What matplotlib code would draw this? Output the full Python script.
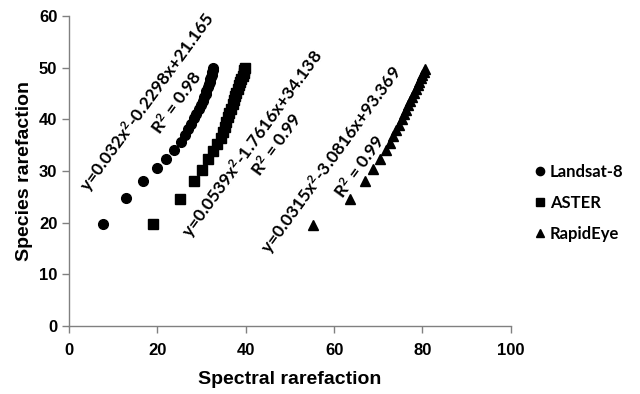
import matplotlib
matplotlib.use('Agg')
import matplotlib.pyplot as plt

# Landsat-8 (circles)
landsat_x = [7.6, 12.9, 16.8, 19.8, 21.9, 23.8, 25.3, 26.2, 26.9, 27.6, 28.2, 28.8, 29.4,
             29.9, 30.3, 30.6, 30.9, 31.1, 31.4, 31.6, 31.8, 32.0, 32.2, 32.3, 32.4, 32.5, 32.6]
landsat_y = [19.7, 24.8, 28.0, 30.5, 32.4, 34.1, 35.6, 36.9, 38.1, 39.2, 40.2, 41.1, 42.0,
             42.8, 43.6, 44.3, 45.0, 45.6, 46.2, 46.8, 47.3, 47.8, 48.3, 48.7, 49.1, 49.5, 49.9]

# ASTER (squares)
aster_x = [18.9, 25.0, 28.3, 30.2, 31.5, 32.6, 33.5, 34.3, 34.8, 35.2, 35.6, 36.0, 36.3,
           36.7, 37.0, 37.3, 37.6, 37.9, 38.2, 38.5, 38.8, 39.0, 39.3, 39.5, 39.7, 39.8]
aster_y = [19.7, 24.6, 28.0, 30.3, 32.3, 33.9, 35.2, 36.4, 37.5, 38.5, 39.5, 40.4, 41.3,
           42.1, 42.9, 43.7, 44.5, 45.2, 45.9, 46.6, 47.3, 47.9, 48.5, 49.0, 49.5, 50.0]

# RapidEye (triangles)
rapideye_x = [55.3, 63.5, 66.9, 68.9, 70.5, 71.8, 72.7, 73.4, 74.1, 74.7, 75.3, 75.8,
              76.3, 76.8, 77.3, 77.7, 78.1, 78.5, 78.9, 79.3, 79.7, 80.0, 80.3, 80.6]
rapideye_y = [19.6, 24.5, 28.0, 30.4, 32.4, 34.0, 35.4, 36.7, 37.9, 39.0, 40.0, 41.0,
              41.9, 42.8, 43.6, 44.4, 45.2, 45.9, 46.6, 47.3, 48.0, 48.6, 49.2, 49.8]

# trend-line labels: (x, y, text)
fit_labels = [
    (17.8, 43.4, 'y=0.032x$^{2}$-0.2298x+21.165'),
    (24.4, 43.2, 'R$^{2}$ = 0.98'),
    (41.5, 35.3, 'y=0.0539x$^{2}$-1.7616x+34.138'),
    (47.0, 35.2, 'R$^{2}$ = 0.99'),
    (59.5, 32.1, 'y=0.0315x$^{2}$-3.0816x+93.369'),
    (65.8, 30.8, 'R$^{2}$ = 0.99'),
]

plt.rcParams['mathtext.fontset'] = 'custom'
plt.rcParams['mathtext.rm'] = 'Lato:bold'
plt.rcParams['mathtext.default'] = 'rm'

fig = plt.figure(figsize=(6.4, 3.94), dpi=100)
ax = fig.add_axes([0.108, 0.1726, 0.69, 0.7864])

ax.plot(landsat_x, landsat_y, 'o', color='black', ms=7, label='Landsat-8')
ax.plot(aster_x, aster_y, 's', color='black', ms=6.5, label='ASTER')
ax.plot(rapideye_x, rapideye_y, '^', color='black', ms=7.5, label='RapidEye')

for x, y, txt in fit_labels:
    ax.text(x, y, txt, rotation=54, ha='center', va='center', fontsize=12.5,
            family='Lato', fontweight='bold', rotation_mode='anchor')

ax.set_xlim(0, 100)
ax.set_ylim(0, 60)
ax.set_xticks(range(0, 101, 20))
ax.set_yticks(range(0, 61, 10))
for s in ['top', 'right']:
    ax.spines[s].set_visible(False)
for s in ['left', 'bottom']:
    ax.spines[s].set_color('#808080')
    ax.spines[s].set_linewidth(1)
ax.tick_params(colors='#808080', length=5, width=1, labelcolor='black')
ax.tick_params(axis='x', pad=7.5)
for lab in ax.get_xticklabels() + ax.get_yticklabels():
    lab.set_fontweight('bold')
    lab.set_fontsize(12)
    lab.set_family('Liberation Sans')

ax.set_xlabel('Spectral rarefaction', fontsize=14, fontweight='bold', family='Liberation Sans', labelpad=9)
ax.set_ylabel('Species rarefaction', fontsize=14, fontweight='bold', family='Liberation Sans', labelpad=4)

leg = fig.legend(loc='center left', bbox_to_anchor=(0.81, 0.485), frameon=False,
                 prop={'family': 'Lato', 'weight': 'bold', 'size': 12},
                 handletextpad=0.2, handlelength=0.8, labelspacing=0.9, markerscale=0.85)

fig.savefig('out.png', dpi=100)
